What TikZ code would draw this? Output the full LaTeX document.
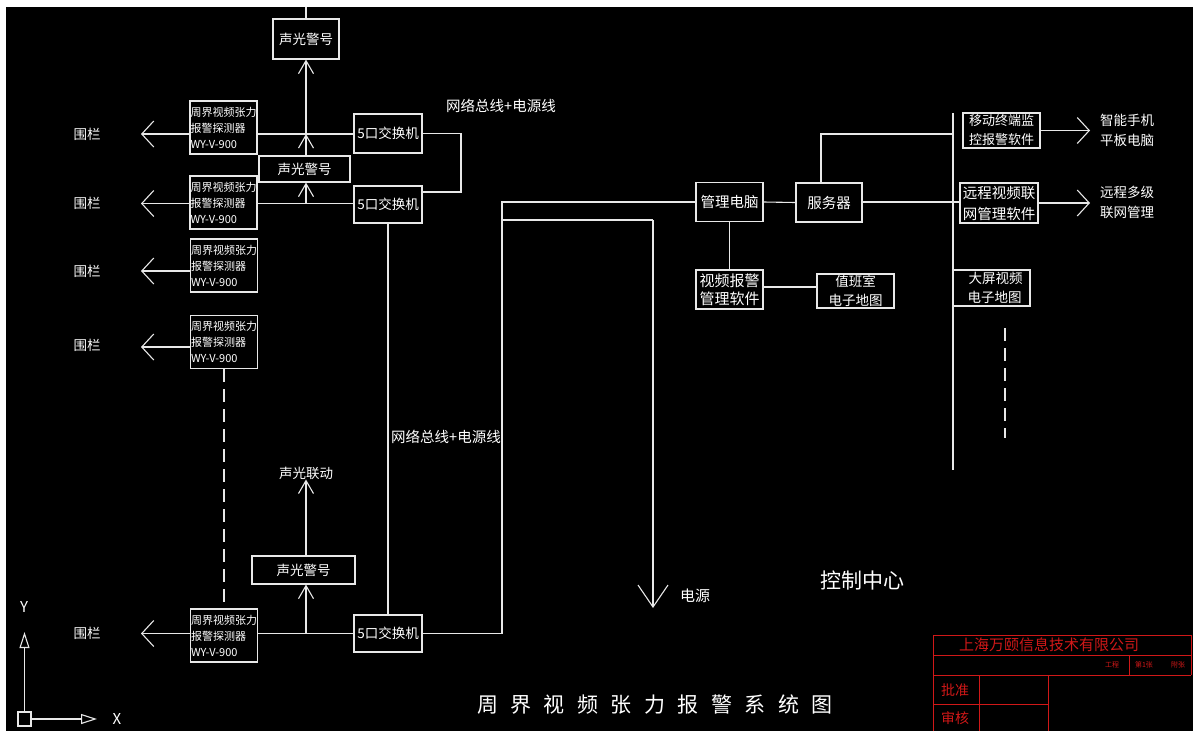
\documentclass[tikz,border=0pt]{standalone}
\usepackage{fontspec}
\setmainfont{Noto Sans CJK SC}
\usetikzlibrary{arrows.meta}
\definecolor{ln}{HTML}{E8E8E8}
\definecolor{rd}{HTML}{D01818}
\begin{document}
\begin{tikzpicture}[x=1pt,y=-1pt,
  every node/.style={text=white,inner sep=0pt},
  wire/.style={draw=ln,line width=1.1pt},
  box/.style={draw=ln,line width=1.1pt,rectangle,align=center,font=\fontsize{13.5}{19}\selectfont},
  detbox/.style={draw=ln,line width=1.1pt,rectangle,align=left,minimum width=67pt,minimum height=53pt,font=\fontsize{11}{16}\selectfont},
  lbl/.style={align=center,font=\fontsize{13.5}{20}\selectfont},
  bigV/.style={-{Straight Barb[length=12pt,width=26pt]}},
  smallV/.style={-{Straight Barb[length=13pt,width=15pt]}},
  powV/.style={-{Straight Barb[length=22pt,width=30pt]}},
  axisT/.style={-{Triangle[open,length=16pt,width=10pt]}},
  dashline/.style={draw=ln,line width=1.1pt,dash pattern=on 13pt off 7pt},
  redline/.style={draw=rd,line width=1pt},
  redtxt/.style={text=rd}
]
\useasboundingbox (0,0) rectangle (1193,731);
\fill[black] (0,0) rectangle (1193,731);
\fill[white] (0,0) rectangle (1193,7);
\fill[white] (0,0) rectangle (6,731);

% ---------- left column: detectors ----------
\node[detbox] (det1) at (223.5,127.5) {周界视频张力\\报警探测器\\WY-V-900};
\node[detbox] (det2) at (223.5,202.5) {周界视频张力\\报警探测器\\WY-V-900};
\node[detbox] (det3) at (224,265.5) {周界视频张力\\报警探测器\\WY-V-900};
\node[detbox] (det4) at (224,342) {周界视频张力\\报警探测器\\WY-V-900};
\node[detbox] (det5) at (224,635.5) {周界视频张力\\报警探测器\\WY-V-900};

\node[lbl] (f1) at (87,134) {围栏};
\node[lbl] (f2) at (87,203) {围栏};
\node[lbl] (f3) at (87,271) {围栏};
\node[lbl] (f4) at (87,345) {围栏};
\node[lbl] (f5) at (87,633) {围栏};

\coordinate (a1) at (141,134);
\coordinate (a2) at (141,203.5);
\coordinate (a3) at (141,271);
\coordinate (a4) at (141,347);
\coordinate (a5) at (141,633.5);
\draw[wire,bigV] (det1.west |- a1) -- (a1);
\draw[wire,bigV] (det2.west |- a2) -- (a2);
\draw[wire,bigV] (det3.west |- a3) -- (a3);
\draw[wire,bigV] (det4.west |- a4) -- (a4);
\draw[wire,bigV] (det5.west |- a5) -- (a5);

% ---------- alarms and switches ----------
\node[box,minimum width=66pt,minimum height=40pt] (sg1) at (306,39) {声光警号};
\node[box,minimum width=91pt,minimum height=26pt] (sg2) at (304.5,169) {声光警号};
\node[box,minimum width=103pt,minimum height=28pt] (sg3) at (303.5,570) {声光警号};
\node[lbl] (link) at (306,473) {声光联动};

\node[box,minimum width=68pt,minimum height=39pt] (sw1) at (388,133.5) {5口交换机};
\node[box,minimum width=68pt,minimum height=37pt] (sw2) at (388,204.5) {5口交换机};
\node[box,minimum width=68pt,minimum height=37pt] (sw3) at (388,633.5) {5口交换机};

\coordinate (top) at (306,7);
\coordinate (j1) at (306,134);
\coordinate (j2) at (306,203.5);
\coordinate (j3) at (306,633.5);

\draw[wire] (top) -- (sg1.north -| top);
\draw[wire] (det1.east |- a1) -- (sw1.west |- a1);
\draw[wire] (det2.east |- a2) -- (sw2.west |- a2);
\draw[wire] (det5.east |- a5) -- (sw3.west |- a5);
\draw[wire,smallV] (sg2.north -| j1) -- (j1);
\draw[wire,smallV] (j1) -- (sg1.south -| j1);
\draw[wire,smallV] (j2) -- (sg2.south -| j2);
\draw[wire,smallV] (j3) -- (sg3.south -| j3);
\draw[wire,smallV] (sg3.north -| j3) -- (link.south -| j3);

\draw[dashline] (det4.south) -- (det5.north);

\coordinate (b1) at (461,192);
\draw[wire] (sw1.east) -| (b1) -- (sw2.east |- b1);
\draw[wire] (sw2.south) -- (sw3.north);

\node[lbl,font=\fontsize{14.5}{18}\selectfont] (bus1) at (501,106) {网络总线+电源线};
\node[lbl,font=\fontsize{14.5}{18}\selectfont] (bus2) at (446,437) {网络总线+电源线};

% ---------- control centre ----------
\node[box,font=\fontsize{14.5}{19}\selectfont,minimum width=67pt,minimum height=39pt] (pc) at (729.5,202) {管理电脑};
\node[box,font=\fontsize{14.5}{19}\selectfont,minimum width=66pt,minimum height=39pt] (srv) at (829,202.5) {服务器};
\node[box,font=\fontsize{15}{18}\selectfont,minimum width=67pt,minimum height=39pt] (vsw) at (729.5,289.5) {视频报警\\管理软件};
\node[box,font=\fontsize{13.5}{19}\selectfont,minimum width=77pt,minimum height=34pt] (duty) at (855.5,291) {值班室\\电子地图};

\coordinate (c1) at (502,202);
\coordinate (c2) at (502,220);
\coordinate (c3) at (653,220);
\coordinate (pw) at (653,608);
\draw[wire] (sw3.east) -| (c1) -- (pc.west);
\draw[wire] (c2) -- (c3);
\draw[wire,powV] (c3) -- (pw);
\node[lbl,font=\fontsize{15}{18}\selectfont] (pwl) at (695,596) {电源};

\coordinate (e1) at (790,287);
\coordinate (e2) at (910,202);
\draw[wire] (pc.east) -- (srv.west);
\draw[wire] (pc.south) -- (vsw.north);
\draw[wire] (vsw.east |- e1) -- (duty.west |- e1);

\coordinate (bt) at (953,113);
\coordinate (bb) at (953,470);
\draw[wire] (bt) -- (bb);
\coordinate (t1) at (821,134);
\draw[wire] (t1 |- srv.north) -- (t1) -- (t1 -| bt);

\node[box,font=\fontsize{13}{19}\selectfont,minimum width=77pt,minimum height=35pt] (mob) at (1001.5,130.5) {移动终端监\\控报警软件};
\node[box,font=\fontsize{14.5}{21}\selectfont,minimum width=78pt,minimum height=40pt] (rem) at (999,203) {远程视频联\\网管理软件};
\node[box,font=\fontsize{13.5}{19}\selectfont,minimum width=77pt,minimum height=36pt] (big) at (991.5,288) {\hspace*{8pt}大屏视频\\\hspace*{6pt}电子地图};

\draw[wire] (srv.east |- e2) -- (rem.west |- e2);
\coordinate (m1) at (1090,130.5);
\coordinate (m2) at (1090,203);
\draw[wire,bigV] (mob.east) -- (m1);
\draw[wire,bigV] (rem.east) -- (m2);
\node[lbl,font=\fontsize{13.5}{20}\selectfont] (phone) at (1127,130) {智能手机\\平板电脑};
\node[lbl,font=\fontsize{13.5}{20}\selectfont] (multi) at (1127,202) {远程多级\\联网管理};

\coordinate (d1) at (1005,328);
\coordinate (d2) at (1005,438);
\draw[dashline] (d1) -- (d2);

\node[lbl,font=\fontsize{21}{24}\selectfont] (cc) at (862,580) {控制中心};

% ---------- title ----------
\node[lbl,font=\fontsize{21}{24}\selectfont] (title) at (655,705) {周\hspace{12.5pt}界\hspace{12.5pt}视\hspace{12.5pt}频\hspace{12.5pt}张\hspace{12.5pt}力\hspace{12.5pt}报\hspace{12.5pt}警\hspace{12.5pt}系\hspace{12.5pt}统\hspace{12.5pt}图};

% ---------- UCS icon ----------
\node[draw=ln,line width=1.1pt,minimum width=13pt,minimum height=14pt] (ucs) at (24.5,719) {};
\coordinate (ya) at (24.5,632);
\coordinate (xa) at (97,719);
\draw[wire,axisT] (ucs.north) -- (ya);
\draw[wire,axisT] (ucs.east) -- (xa);
\node[font=\fontsize{15}{18}\selectfont] (ylab) at (24,607) {Y};
\node[font=\fontsize{15}{18}\selectfont] (xlab) at (117,719) {X};

% ---------- title block ----------
\draw[redline] (933,731) -- (933,635) -- (1191,635) -- (1191,675);
\draw[redline] (933,655) -- (1191,655);
\draw[redline] (933,675) -- (1191,675);
\draw[redline] (933,704) -- (1048,704);
\draw[redline] (979,675) -- (979,731);
\draw[redline] (1048,675) -- (1048,731);
\draw[redline] (1129,655) -- (1129,675);
\node[redtxt,font=\fontsize{15}{18}\selectfont] (co) at (1049,645) {上海万颐信息技术有限公司};
\node[redtxt,font=\fontsize{7}{8}\selectfont] (s1) at (1112,665) {工程};
\node[redtxt,font=\fontsize{7}{8}\selectfont] (s2) at (1144,665) {第1张};
\node[redtxt,font=\fontsize{7}{8}\selectfont] (s3) at (1178,665) {附张};
\node[redtxt,font=\fontsize{14}{18}\selectfont] (pz) at (955,690) {批准};
\node[redtxt,font=\fontsize{14}{18}\selectfont] (sh) at (955,718) {审核};
\end{tikzpicture}
\end{document}
